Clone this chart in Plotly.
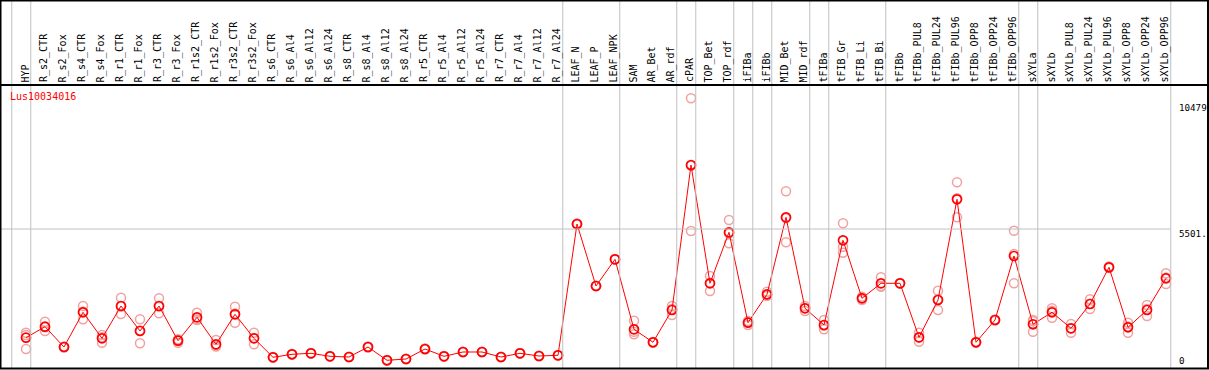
import plotly.graph_objects as go

title = "Lus10034016"

categories = [
    "HYP",
    "R_s2_CTR", "R_s2_Fox", "R_s4_CTR", "R_s4_Fox", "R_r1_CTR", "R_r1_Fox", "R_r3_CTR", "R_r3_Fox",
    "R_r1s2_CTR", "R_r1s2_Fox", "R_r3s2_CTR", "R_r3s2_Fox",
    "R_s6_CTR", "R_s6_Al4", "R_s6_Al12", "R_s6_Al24", "R_s8_CTR", "R_s8_Al4", "R_s8_Al12", "R_s8_Al24",
    "R_r5_CTR", "R_r5_Al4", "R_r5_Al12", "R_r5_Al24", "R_r7_CTR", "R_r7_Al4", "R_r7_Al12", "R_r7_Al24",
    "LEAF_N", "LEAF_P", "LEAF_NPK",
    "SAM", "AR_Bet", "AR_rdf",
    "cPAR",
    "TOP_Bet", "TOP_rdf",
    "iFIBa",
    "iFIBb",
    "MID_Bet", "MID_rdf",
    "tFIBa",
    "tFIB_Gr", "tFIB_Li", "tFIB_Bi",
    "tFIBb", "tFIBb_PUL8", "tFIBb_PUL24", "tFIBb_PUL96", "tFIBb_OPP8", "tFIBb_OPP24", "tFIBb_OPP96",
    "sXYLa",
    "sXYLb", "sXYLb_PUL8", "sXYLb_PUL24", "sXYLb_PUL96", "sXYLb_OPP8", "sXYLb_OPP24", "sXYLb_OPP96",
]

# sizes of the column groups separated by grey vertical lines
group_sizes = [1, 28, 3, 3, 1, 2, 1, 1, 2, 1, 3, 7, 1, 7]

mean_values = [
    1190,
    1626, 821, 2198, 1166, 2447, 1456, 2447, 1071,
    1999, 928, 2118, 1166,
    413, 532, 571, 452, 424, 821, 294, 345,
    742, 452, 623, 623, 424, 571, 464, 492,
    5700, 3241, 4300,
    1523, 1008, 2289,
    8040,
    3348, 5371,
    1785,
    2912,
    5966, 2356,
    1694,
    5054, 2753, 3348,
    3348, 1206, 2685, 6680, 1008, 1892, 4431,
    1722,
    2198, 1563, 2527, 3983, 1603, 2289, 3546,
]

rep1 = [
    1388,
    1825, 800, 2447, 1297, 2777, 1920, 2753, 1127,
    2182, 1099, 2420, 1388,
    400, 520, 560, 440, 410, 800, 285, 335,
    725, 440, 610, 610, 410, 560, 450, 480,
    5680, 3230, 4290,
    1864, 1000, 2447,
    10686,
    3637, 5859,
    1850,
    3015,
    6997, 2447,
    1892,
    5728, 2816, 3586,
    3340, 1388, 3054, 7354, 990, 1870, 5434,
    1892,
    2356, 1733, 2713, 4010, 1785, 2487, 3745,
]

rep2 = [
    1297,
    1456, 830, 1920, 992, 2130, 968, 2158, 992,
    1892, 900, 1785, 928,
    425, 545, 580, 465, 435, 840, 305, 355,
    760, 465, 635, 635, 435, 580, 475, 505,
    5720, 3250, 4310,
    1428, 1015, 2090,
    5422,
    3042, 4934,
    1694,
    2844,
    4974, 2249,
    1523,
    4562, 2685, 3213,
    3355, 1031, 2289, 5966, 1010, 1900, 3348,
    1428,
    1983, 1388, 2328, 3950, 1388, 2051, 3320,
]

rep3 = [
    742,
    1600, 835, 2230, 1210, 2430, 1480, 2430, 1095,
    1925, 840, 2150, 1180,
    413, 532, 571, 452, 424, 821, 294, 345,
    742, 452, 623, 623, 424, 571, 464, 492,
    5700, 3241, 4300,
    1330, 1008, 2330,
    8012,
    3365, 5320,
    1810,
    2880,
    5927, 2370,
    1667,
    4800, 2760, 3245,
    3348, 1200, 2712, 6720, 1025, 1905, 4510,
    1846,
    2255, 1568, 2540, 3990, 1636, 2330, 3573,
]

grid_value = 5501
right_tick_values = [10479, 5501, 0]
right_tick_labels = ["10479", "5501.", "0"]

# ---------------- layout geometry ----------------
W, H = 1209, 370
TOP, BOTTOM = 85, 2
plot_h = H - TOP - BOTTOM
x_first_px, x_step_px = 26.0, 19.0
x_range = [(0 - x_first_px) / x_step_px, (W - x_first_px) / x_step_px]
y_px_per_unit = 0.02521
zero_px = 367.7
y_range = [-(H - BOTTOM - zero_px) / y_px_per_unit, (zero_px - TOP) / y_px_per_unit]

def xpaper(i):
    return (i - x_range[0]) / (x_range[1] - x_range[0])

def ypaper_px(py):
    return 1 - (py - TOP) / plot_h

FONT = "DejaVu Sans Mono"
RED = "#FF0000"
REP = "#F2A0A0"
GREY = "#C0C0C0"

idx = list(range(len(categories)))

fig = go.Figure()
for reps in (rep1, rep2, rep3):
    fig.add_trace(go.Scatter(
        x=idx, y=reps, mode="markers",
        marker=dict(symbol="circle-open", size=9, color=REP, line=dict(width=1.5, color=REP)),
        hoverinfo="skip", showlegend=False, cliponaxis=False,
    ))
fig.add_trace(go.Scatter(
    x=idx, y=mean_values, mode="lines+markers",
    line=dict(color=RED, width=1),
    marker=dict(symbol="circle-open", size=9, color=RED, line=dict(width=1.7, color=RED)),
    showlegend=False, cliponaxis=False,
))

shapes = []
# group separators
bounds = [-1]
acc = -1
for g in group_sizes:
    acc += g
    bounds.append(acc)
for b in bounds:
    xp = xpaper(b + 0.25)
    shapes.append(dict(type="line", xref="paper", yref="paper", x0=xp, x1=xp,
                       y0=0, y1=ypaper_px(0), line=dict(color=GREY, width=1)))
# horizontal grid line
shapes.append(dict(type="line", xref="paper", yref="y", x0=0, x1=xpaper(bounds[-1] + 0.25),
                   y0=grid_value, y1=grid_value, line=dict(color=GREY, width=1)))
# black frame
blk = dict(color="black", width=2)
shapes += [
    dict(type="line", xref="paper", yref="paper", x0=0, x1=1, y0=ypaper_px(0.5), y1=ypaper_px(0.5), line=blk),
    dict(type="line", xref="paper", yref="paper", x0=0, x1=1, y0=ypaper_px(85), y1=ypaper_px(85), line=blk),
    dict(type="line", xref="paper", yref="paper", x0=0, x1=1, y0=ypaper_px(368.5), y1=ypaper_px(368.5), line=blk),
    dict(type="line", xref="paper", yref="paper", x0=0.5 / W, x1=0.5 / W, y0=ypaper_px(369), y1=ypaper_px(0), line=blk),
    dict(type="line", xref="paper", yref="paper", x0=1208 / W, x1=1208 / W, y0=ypaper_px(369), y1=ypaper_px(0), line=blk),
]

annotations = []
for i, c in enumerate(categories):
    annotations.append(dict(
        x=i, xref="x", y=ypaper_px(83.5), yref="paper", text=c, showarrow=False,
        textangle=-90, xanchor="center", yanchor="bottom", xshift=-1,
        font=dict(family=FONT, size=10, color="black"), borderpad=0,
    ))
annotations.append(dict(
    x=9 / W, xref="paper", y=ypaper_px(97), yref="paper", text=title, showarrow=False,
    xanchor="left", yanchor="middle", font=dict(family=FONT, size=10, color=RED), borderpad=0,
))
for v, lab in zip(right_tick_values, right_tick_labels):
    if v == 0:
        annotations.append(dict(x=1178 / W, xref="paper", y=v, yref="y", text=lab, showarrow=False,
                                xanchor="left", yanchor="bottom", yshift=1,
                                font=dict(family=FONT, size=9.2, color="black"), borderpad=0))
    else:
        annotations.append(dict(x=1178 / W, xref="paper", y=v, yref="y", text=lab, showarrow=False,
                                xanchor="left", yanchor="middle", yshift=-4,
                                font=dict(family=FONT, size=9.2, color="black"), borderpad=0))

fig.update_layout(
    width=W, height=H,
    margin=dict(l=0, r=0, t=TOP, b=BOTTOM, pad=0),
    paper_bgcolor="white", plot_bgcolor="white",
    xaxis=dict(range=x_range, showgrid=False, zeroline=False, showticklabels=False, ticks="", fixedrange=True),
    yaxis=dict(range=y_range, showgrid=False, zeroline=False, showticklabels=False, ticks="", fixedrange=True),
    shapes=shapes, annotations=annotations, showlegend=False,
)

fig.write_html("out.html", config={"displayModeBar": False},
               post_script="document.body.style.margin='0px';document.body.style.overflow='hidden';")
